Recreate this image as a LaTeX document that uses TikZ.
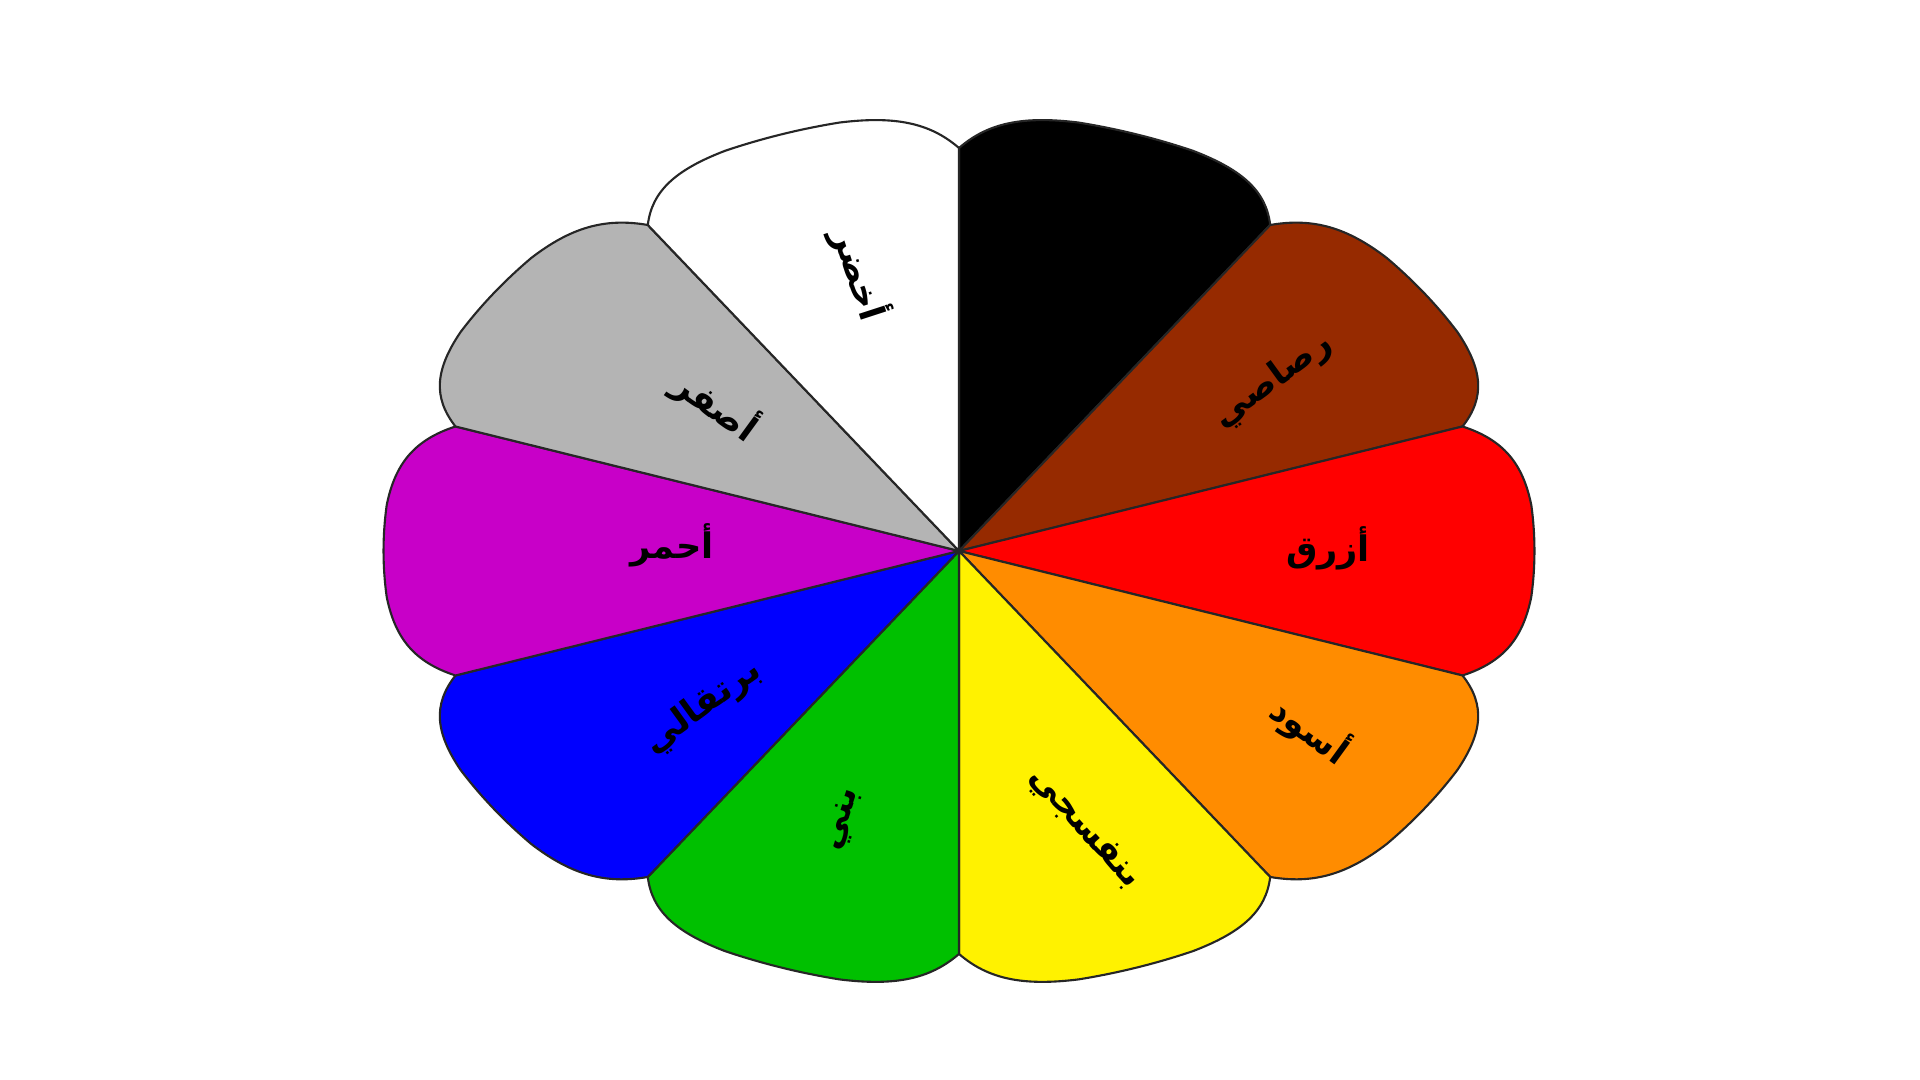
\documentclass[tikz,border=0pt]{standalone}
\usepackage{fontspec}
\newfontfamily\arabicfont[Script=Arabic]{DejaVu Sans}
\TeXXeTstate=1
\definecolor{cBrown}{RGB}{150,42,0}
\definecolor{cOrange}{RGB}{255,140,0}
\definecolor{cGreen}{RGB}{0,192,0}
\definecolor{cMag}{RGB}{200,0,200}
\definecolor{cGray}{RGB}{180,180,180}
\begin{document}
\begin{tikzpicture}[x=0.01cm,y=0.01cm,
  petal/.style={draw=black!85, line width=0.6pt, line join=round},
  lbl/.style={font=\arabicfont\bfseries\fontsize{10}{12}\selectfont, text=black, inner sep=0pt}]
\useasboundingbox[fill=white] (0,0) rectangle (1920,1080);
\begin{scope}[shift={(959,529)}, xscale=575.5, yscale=438]
\foreach \a/\c in {54/black, 18/cBrown, -18/red, -54/cOrange, -90/yellow, -126/cGreen, -162/blue, 162/cMag, 126/cGray, 90/white}{
  \filldraw[petal, fill=\c] (0,0) -- (\a:0.92)
    .. controls ({\a+3}:0.98) and ({\a+6.5}:1) .. ({\a+12}:1)
    arc[start angle={\a+12}, end angle={\a+24}, radius=1]
    .. controls ({\a+29.5}:1) and ({\a+33}:0.98) .. ({\a+36}:0.92) -- cycle;
}
\end{scope}
\node[lbl, rotate=-72] (tw) at (860,806) {\beginR أخضر\endR};
\node[lbl, rotate=-36] (tgr) at (716,674) {\beginR أصفر\endR};
\node[lbl] (tm) at (672,535) {\beginR أحمر\endR};
\node[lbl, rotate=36] (tb) at (703,373) {\beginR برتقالي\endR};
\node[lbl, rotate=72] (tg) at (844,260) {\beginR بني\endR};
\node[lbl, rotate=-48] (ty) at (1084,251) {\beginR بنفسجي\endR};
\node[lbl, rotate=-36] (to) at (1310,350) {\beginR أسود\endR};
\node[lbl] (tr) at (1328,532) {\beginR أزرق\endR};
\node[lbl, rotate=36] (tbr) at (1273,699) {\beginR رصاصي\endR};
\end{tikzpicture}
\end{document}
